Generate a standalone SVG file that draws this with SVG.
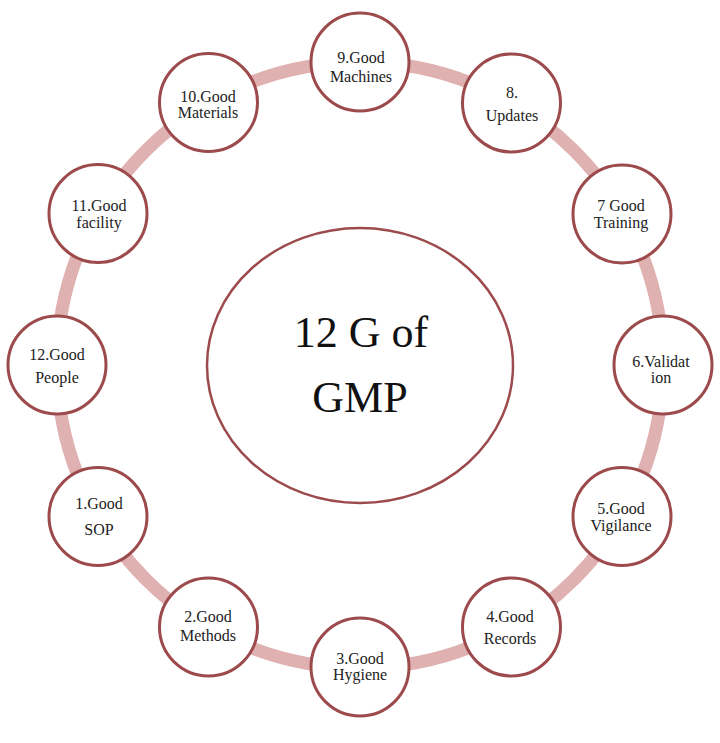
<svg xmlns="http://www.w3.org/2000/svg" width="720" height="743" viewBox="0 0 720 743">
<style>
.ring{fill:none;stroke:#e0b1b1;stroke-width:13}
.node{fill:#ffffff;stroke:#9c4a4c;stroke-width:3}
.hub{fill:#ffffff;stroke:#9c4a4c;stroke-width:2.5}
.t{font-family:"Liberation Serif","Times New Roman",serif;font-size:16px;fill:#222;text-anchor:middle}
.big{font-family:"Liberation Serif","Times New Roman",serif;font-size:44px;fill:#111;text-anchor:middle}
</style>
<rect width="720" height="743" fill="#ffffff"/>
<g id="connectors">
<circle class="ring" cx="360" cy="365" r="303"/>
</g>
<g id="hub">
<ellipse class="hub" cx="360" cy="365.5" rx="153" ry="137.5"/>
<text class="big" x="361" y="347">12 G of</text>
<text class="big" x="360" y="412">GMP</text>
</g>
<g id="n9"><circle class="node" cx="360" cy="62" r="49"/><text class="t" x="361" y="63">9.Good</text><text class="t" x="361" y="82">Machines</text></g>
<g id="n8"><circle class="node" cx="511.5" cy="103" r="49"/><text class="t" x="512" y="98">8.</text><text class="t" x="512" y="121">Updates</text></g>
<g id="n7"><circle class="node" cx="622" cy="214" r="49"/><text class="t" x="621" y="211">7 Good</text><text class="t" x="621" y="228">Training</text></g>
<g id="n6"><circle class="node" cx="663" cy="365" r="49"/><text class="t" x="661" y="367">6.Validat</text><text class="t" x="661" y="383">ion</text></g>
<g id="n5"><circle class="node" cx="622" cy="516.5" r="49"/><text class="t" x="621" y="514">5.Good</text><text class="t" x="621" y="531">Vigilance</text></g>
<g id="n4"><circle class="node" cx="511.5" cy="627" r="49"/><text class="t" x="510" y="622">4.Good</text><text class="t" x="510" y="644">Records</text></g>
<g id="n3"><circle class="node" cx="360" cy="667" r="49"/><text class="t" x="360" y="664">3.Good</text><text class="t" x="360" y="680">Hygiene</text></g>
<g id="n2"><circle class="node" cx="208.5" cy="627" r="49"/><text class="t" x="208" y="622">2.Good</text><text class="t" x="208" y="641">Methods</text></g>
<g id="n1"><circle class="node" cx="98" cy="516.5" r="49"/><text class="t" x="99" y="509">1.Good</text><text class="t" x="99" y="535">SOP</text></g>
<g id="n12"><circle class="node" cx="57" cy="365" r="49"/><text class="t" x="57" y="360">12.Good</text><text class="t" x="57" y="383">People</text></g>
<g id="n11"><circle class="node" cx="98" cy="213.5" r="49"/><text class="t" x="99" y="211">11.Good</text><text class="t" x="99" y="228">facility</text></g>
<g id="n10"><circle class="node" cx="208.5" cy="102.5" r="49"/><text class="t" x="208" y="102">10.Good</text><text class="t" x="208" y="118">Materials</text></g>
</svg>
